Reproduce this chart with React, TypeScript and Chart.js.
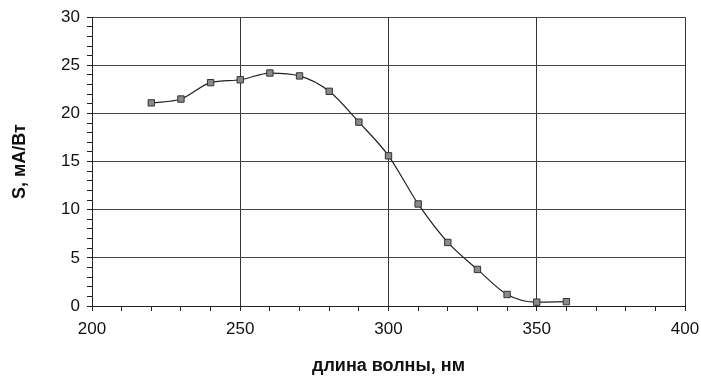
import React, { useEffect, useRef } from "react";
import { Chart, registerables } from "chart.js";

Chart.register(...registerables);

const wavelengths = [220, 230, 240, 250, 260, 270, 280, 290, 300, 310, 320, 330, 340, 350, 360];
const sensitivity = [21.1, 21.5, 23.2, 23.5, 24.2, 23.9, 22.3, 19.1, 15.6, 10.6, 6.6, 3.8, 1.2, 0.4, 0.45];
const xTitle = "длина волны, нм";
const yTitle = "S, мА/Вт";

export default function App() {
  const ref = useRef<HTMLCanvasElement>(null);
  useEffect(() => {
    if (!ref.current) return;
    const chart = new Chart(ref.current, {
      type: "line",
      data: {
        datasets: [
          {
            data: wavelengths.map((x, i) => ({ x, y: sensitivity[i] })),
            borderColor: "#222",
            borderWidth: 1.2,
            backgroundColor: "#8a8a8a",
            pointBackgroundColor: "#8a8a8a",
            pointBorderColor: "#333",
            pointBorderWidth: 1,
            pointStyle: "rect",
            pointRadius: 4.5,
            cubicInterpolationMode: "monotone",
          },
        ],
      },
      options: {
        animation: false,
        responsive: false,
        maintainAspectRatio: false,
        layout: { padding: { left: 0, top: 16, right: 16, bottom: 0 } },
        plugins: { legend: { display: false }, tooltip: { enabled: false } },
        scales: {
          x: {
            type: "linear",
            min: 200,
            max: 400,
            afterFit: (s: any) => { s.height = 77; s.paddingRight = 0; s.paddingLeft = 0; },
            border: { display: true, color: "#222", width: 1 },
            grid: {
              color: (c: any) => (c.tick && c.tick.value % 50 === 0 ? "#333" : "rgba(0,0,0,0)"),
              tickColor: "#222",
              tickLength: 5,
              lineWidth: 1,
            },
            ticks: {
              stepSize: 10,
              autoSkip: false,
              maxRotation: 0,
              padding: 8,
              color: "#111",
              font: { family: "Liberation Sans, Arial, sans-serif", size: 17 },
              callback: (v: any) => (Number(v) % 50 === 0 ? String(v) : ""),
            },
            title: {
              display: true,
              text: xTitle,
              color: "#111",
              padding: { top: 10, bottom: 6 },
              font: { family: "Liberation Sans, Arial, sans-serif", size: 18, weight: "bold" },
            },
          },
          y: {
            type: "linear",
            min: 0,
            max: 30,
            afterFit: (s: any) => { s.width = 92; },
            border: { display: true, color: "#222", width: 1 },
            grid: {
              color: (c: any) => (c.tick && c.tick.value % 5 === 0 ? "#444" : "rgba(0,0,0,0)"),
              tickColor: "#222",
              tickLength: 5,
              lineWidth: 1,
            },
            ticks: {
              stepSize: 1,
              autoSkip: false,
              padding: 7,
              color: "#111",
              font: { family: "Liberation Sans, Arial, sans-serif", size: 17 },
              callback: (v: any) => (Number(v) % 5 === 0 ? String(v) : ""),
            },
            title: {
              display: true,
              text: yTitle,
              color: "#111",
              padding: { top: 9, bottom: 0 },
              font: { family: "Liberation Sans, Arial, sans-serif", size: 18, weight: "bold" },
            },
          },
        },
      },
    });
    return () => chart.destroy();
  }, []);
  return (
    <div style={{ position: "fixed", left: 0, top: 0, width: 701, height: 383, background: "#fff" }}>
      <canvas ref={ref} width={701} height={383} style={{ width: 701, height: 383 }} />
    </div>
  );
}
